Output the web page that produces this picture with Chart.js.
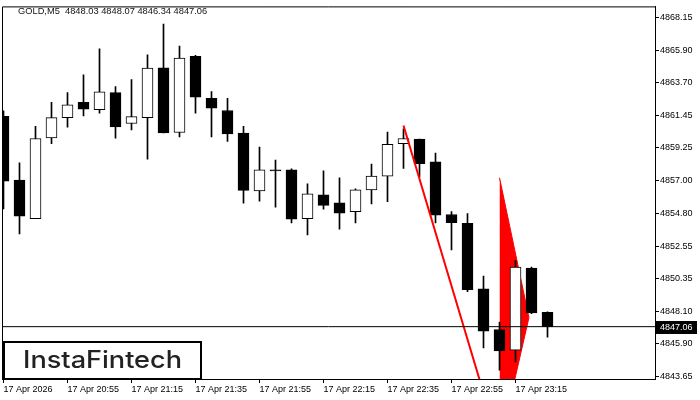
<!DOCTYPE html>
<html><head><meta charset="utf-8">
<script src="https://cdn.jsdelivr.net/npm/chart.js@4.4.1/dist/chart.umd.min.js"></script>
<style>html,body{margin:0;padding:0;background:#fff;}canvas{display:block;}</style>
</head><body>
<canvas id="c" width="700" height="400"></canvas>
<script>
const symbolTitle = "GOLD,M5  4848.03 4848.07 4846.34 4847.06";
const opens  = [4861.41,4857.06,4854.42,4859.94,4861.32,4862.36,4861.86,4863.03,4860.92,4861.32,4864.72,4860.31,4865.51,4862.63,4861.81,4860.26,4856.32,4857.76,4857.76,4854.42,4856.05,4855.51,4854.90,4856.39,4857.33,4859.54,4859.85,4858.30,4854.71,4854.11,4849.64,4846.87,4845.45,4851.06,4848.03];
const highs  = [4861.79,4858.23,4860.73,4862.36,4863.03,4864.25,4866.01,4863.44,4863.91,4865.60,4867.70,4866.21,4865.58,4863.10,4862.63,4860.73,4859.31,4858.43,4857.83,4856.81,4857.69,4857.22,4856.47,4858.16,4860.33,4860.56,4859.85,4858.91,4854.92,4854.78,4850.52,4847.37,4851.59,4851.13,4848.07];
const lows   = [4855.10,4853.38,4854.42,4859.54,4860.67,4861.43,4861.63,4859.92,4860.48,4858.48,4860.28,4860.01,4861.63,4860.01,4859.70,4855.48,4855.62,4855.21,4854.13,4853.32,4855.07,4853.72,4854.13,4855.43,4855.59,4857.85,4857.28,4854.13,4852.30,4849.44,4845.61,4844.10,4844.66,4847.95,4846.34];
const closes = [4856.99,4854.60,4859.90,4861.32,4862.20,4861.90,4863.08,4860.69,4861.39,4864.70,4860.28,4865.38,4862.71,4861.97,4860.21,4856.36,4857.76,4857.69,4854.40,4856.12,4855.34,4854.80,4856.39,4857.33,4859.50,4859.90,4858.18,4854.67,4854.15,4849.58,4846.76,4845.41,4851.13,4848.00,4847.06];
const timeTickBars = [0,4,8,12,16,20,24,28,32];
const timeTickLabels = ["17 Apr 2026","17 Apr 20:55","17 Apr 21:15","17 Apr 21:35","17 Apr 21:55","17 Apr 22:15","17 Apr 22:35","17 Apr 22:55","17 Apr 23:15"];
const priceTicks = [4868.15,4865.90,4863.70,4861.45,4859.25,4857.00,4854.80,4852.55,4850.35,4848.10,4845.90,4843.65];
const lastPrice = 4847.06;
const poleBars = [25, 31];
const polePrices = [4860.78, 4838.90];
const pennantBars = [31, 32.84, 31];
const pennantPrices = [4857.22, 4847.68, 4838.90];
const logoText = "InstaFintech";

const FONT = '"Liberation Sans", Arial, sans-serif';

const overlay = {
  id: 'overlay',
  afterDraw(chart) {
    const ctx = chart.ctx;
    const y = chart.scales.y;
    const a = chart.chartArea;
    ctx.save();
    // frame (top and left)
    ctx.strokeStyle = '#000';
    ctx.lineWidth = 1;
    ctx.beginPath();
    ctx.moveTo(a.left + 0.5, a.bottom);
    ctx.lineTo(a.left + 0.5, a.top + 0.5);
    ctx.lineTo(a.right, a.top + 0.5);
    ctx.stroke();
    // title
    ctx.font = '9.3px ' + FONT;
    ctx.fillStyle = '#111';
    ctx.textBaseline = 'middle';
    ctx.textAlign = 'left';
    ctx.fillText(symbolTitle, 18, 11);
    // last price label
    const py = Math.round(y.getPixelForValue(lastPrice));
    ctx.fillStyle = '#000';
    ctx.fillRect(656, py - 6, 41, 13);
    ctx.fillStyle = '#fff';
    ctx.font = '9px ' + FONT;
    ctx.fillText(lastPrice.toFixed(2), 660, py + 0.5);
    // logo
    ctx.fillStyle = '#fff';
    ctx.fillRect(4, 342, 197, 37);
    ctx.strokeStyle = '#000';
    ctx.lineWidth = 2;
    ctx.strokeRect(4, 342, 197, 37);
    ctx.font = '500 24px Inter, "Open Sans", sans-serif';
    ctx.fillStyle = '#222';
    ctx.textBaseline = 'alphabetic';
    const w = ctx.measureText(logoText).width;
    ctx.translate(23, 367.5);
    ctx.scale(159 / w, 1);
    ctx.fillText(logoText, 0, 0);
    ctx.restore();
  }
};

const bodies = {
  type: 'bar', order: 2, grouped: false,
  data: opens.map((o, i) => ({x: i, y: [o, closes[i]]})),
  backgroundColor: opens.map((o, i) => closes[i] > o ? '#fff' : '#000'),
  borderColor: '#000', borderWidth: 1, borderSkipped: false, barThickness: 11
};
const wicks = {
  type: 'bar', order: 3, grouped: false,
  data: highs.map((h, i) => ({x: i, y: [lows[i], h]})),
  backgroundColor: '#000', borderWidth: 0, barThickness: 1
};
const hline = {
  type: 'line', order: 0,
  data: [{x: -1, y: lastPrice}, {x: 45, y: lastPrice}],
  borderColor: '#000', borderWidth: 1, pointRadius: 0, fill: false
};
const pole = {
  type: 'line', order: 1,
  data: poleBars.map((b, i) => ({x: b, y: polePrices[i]})),
  borderColor: '#ff0000', borderWidth: 2, pointRadius: 0, fill: false
};
const pennantUpper = {
  type: 'line', order: 5,
  data: [{x: pennantBars[0], y: pennantPrices[0]}, {x: pennantBars[1], y: pennantPrices[1]}],
  borderColor: '#ff0000', backgroundColor: '#ff0000', borderWidth: 1, pointRadius: 0, fill: '+1'
};
const pennantLower = {
  type: 'line', order: 5,
  data: [{x: pennantBars[2], y: pennantPrices[2]}, {x: pennantBars[1], y: pennantPrices[1]}],
  borderColor: '#ff0000', borderWidth: 1, pointRadius: 0, fill: false
};

new Chart(document.getElementById('c'), {
  type: 'bar',
  data: { datasets: [bodies, wicks, hline, pole, pennantUpper, pennantLower] },
  options: {
    responsive: false, animation: false, devicePixelRatio: 1,
    layout: { padding: { top: 3, left: 2, right: 0, bottom: 0 } },
    plugins: { legend: { display: false }, tooltip: { enabled: false } },
    scales: {
      x: {
        type: 'linear', offset: false,
        min: -1.5 / 16, max: -1.5 / 16 + 653 / 16,
        afterBuildTicks: s => { s.ticks = timeTickBars.map(v => ({value: v})); },
        afterFit: s => { s.height = 21; },
        grid: { offset: false, drawOnChartArea: false, drawTicks: true, tickLength: 4, color: '#000' },
        border: { display: true, color: '#000' },
        ticks: {
          autoSkip: false, maxRotation: 0, align: 'start', padding: 1, color: '#000',
          font: { family: FONT, size: 9 },
          callback: v => timeTickLabels[timeTickBars.indexOf(v)] ?? ''
        }
      },
      y: {
        type: 'linear', position: 'right',
        min: 4843.49, max: 4868.91,
        afterBuildTicks: s => { s.ticks = priceTicks.map(v => ({value: v})); },
        afterFit: s => { s.width = 45; },
        grid: { drawOnChartArea: false, drawTicks: true, tickLength: 4, color: '#000' },
        border: { display: true, color: '#000' },
        ticks: {
          autoSkip: false, padding: 1, color: '#000',
          font: { family: FONT, size: 9 },
          callback: v => Number(v).toFixed(2)
        }
      }
    }
  },
  plugins: [overlay]
});
</script>
</body></html>
